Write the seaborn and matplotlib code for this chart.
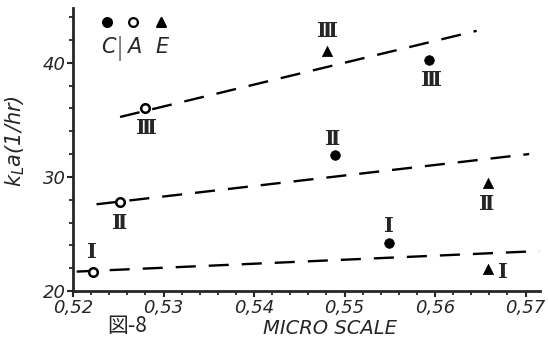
import numpy as np
import pandas as pd
import seaborn as sns
import matplotlib.pyplot as plt
from matplotlib.ticker import MultipleLocator, FixedLocator, FixedFormatter

# Data
micro_A = [0.5222, 0.5252, 0.5280]
kla_A = [21.7, 27.8, 36.05]
micro_C = [0.5549, 0.5490, 0.5593]
kla_C = [24.2, 31.9, 40.2]
micro_E = [0.5659, 0.5659, 0.5481]
kla_E = [21.95, 29.45, 41.05]
levels = ['Ⅰ', 'Ⅱ', 'Ⅲ']

# dashed trend lines for levels I, II, III (start, end)
trend_x = [[0.5204, 0.5715], [0.5226, 0.5704], [0.5252, 0.5646]]
trend_y = [[21.7, 23.5], [27.6, 32.0], [35.25, 42.8]]

xticks = [0.52, 0.53, 0.54, 0.55, 0.56, 0.57]
xtick_labels = ['0,52', '0,53', '0,54', '0,55', '0,56', '0,57']
yticks = [20, 30, 40]

sns.set_style('ticks')
plt.rcParams['font.family'] = ['DejaVu Sans', 'Noto Sans CJK JP']
plt.rcParams['mathtext.fontset'] = 'dejavusans'

fig = plt.figure(figsize=(5.48, 3.39), dpi=100)
ax = fig.add_axes([73 / 548, 1 - 291 / 339, 467 / 548, 283 / 339])

for xs, ys in zip(trend_x, trend_y):
    sns.lineplot(x=xs, y=ys, ax=ax, color='black', lw=1.7,
                 linestyle=(0, (8.5, 5.5)), legend=False)

df = pd.concat([
    pd.DataFrame({'micro': micro_A, 'kla': kla_A, 'level': levels, 'tank': 'A'}),
    pd.DataFrame({'micro': micro_C, 'kla': kla_C, 'level': levels, 'tank': 'C'}),
    pd.DataFrame({'micro': micro_E, 'kla': kla_E, 'level': levels, 'tank': 'E'}),
], ignore_index=True)

styles = {
    'A': dict(marker='o', s=38, facecolor='white', edgecolor='black', linewidth=1.8),
    'C': dict(marker='o', s=48, facecolor='black', edgecolor='black', linewidth=0.5),
    'E': dict(marker='^', s=55, facecolor='black', edgecolor='black', linewidth=0.5),
}
for tank, st in styles.items():
    sub = df[df.tank == tank]
    sns.scatterplot(data=sub, x='micro', y='kla', ax=ax, legend=False, zorder=3, **st)

# label offsets (points) for each roman numeral
offsets = {
    ('A', 'Ⅰ'): (-1, 14), ('A', 'Ⅱ'): (0, -15), ('A', 'Ⅲ'): (0.5, -14.5),
    ('C', 'Ⅰ'): (0, 12.5), ('C', 'Ⅱ'): (-2, 11.5), ('C', 'Ⅲ'): (2, -14),
    ('E', 'Ⅰ'): (10.5, -2), ('E', 'Ⅱ'): (-1.5, -15), ('E', 'Ⅲ'): (0, 14),
}
for _, r in df.iterrows():
    ax.annotate(r.level, (r.micro, r.kla), xytext=offsets[(r.tank, r.level)],
                textcoords='offset points', ha='center', va='center',
                fontsize=15, fontweight='bold',
                family=['DejaVu Serif', 'DejaVu Sans', 'Noto Sans CJK JP'])

# key in upper left
key = [('o', 'black', 'black', 0.073, 'C'), ('o', 'white', 'black', 0.1285, 'A'),
       ('^', 'black', 'black', 0.188, 'E')]
for m, fc, ec, fx, lab in key:
    ax.scatter([fx], [0.9505], transform=ax.transAxes, marker=m, s=40,
               facecolor=fc, edgecolor=ec, linewidth=1.6, clip_on=False, zorder=4)
    ax.text(fx + 0.002, 0.862, lab, transform=ax.transAxes, ha='center', va='center',
            fontsize=15, fontstyle='italic')
ax.text(0.1006, 0.858, '|', transform=ax.transAxes, ha='center', va='center',
        fontsize=17, fontweight='light')

ax.set_xlim(0.52, 0.5716)
ax.set_ylim(20, 44.8)
ax.xaxis.set_major_locator(FixedLocator(xticks))
ax.xaxis.set_major_formatter(FixedFormatter(xtick_labels))
ax.xaxis.set_minor_locator(MultipleLocator(0.002))
ax.set_yticks(yticks)
ax.yaxis.set_minor_locator(MultipleLocator(2))

sns.despine(ax=ax)
for s in ['left', 'bottom']:
    ax.spines[s].set_linewidth(2)
ax.tick_params(which='major', length=4, width=1.5, direction='out', labelsize=13)
ax.tick_params(axis='x', which='major', pad=2)
ax.tick_params(axis='y', which='major', pad=1)
ax.tick_params(which='minor', length=3, width=1.3, direction='out')
for lbl in ax.get_xticklabels() + ax.get_yticklabels():
    lbl.set_fontstyle('italic')
for lbl in ax.get_yticklabels():
    lbl.set_verticalalignment('center_baseline')

ax.set_xlabel('MICRO SCALE', fontsize=14, fontstyle='italic')
ax.xaxis.set_label_coords(0.55, -0.098)
ax.set_ylabel(r'$k_{L}a$(1/hr)', fontsize=15, fontstyle='italic')
ax.yaxis.set_label_coords(-0.098, 0.53)

ax.text(0.116, -0.122, '図-8', transform=ax.transAxes, ha='center', va='center',
        fontsize=15, family=['Noto Sans CJK JP', 'DejaVu Sans'])

fig.savefig('out.png', dpi=100)
